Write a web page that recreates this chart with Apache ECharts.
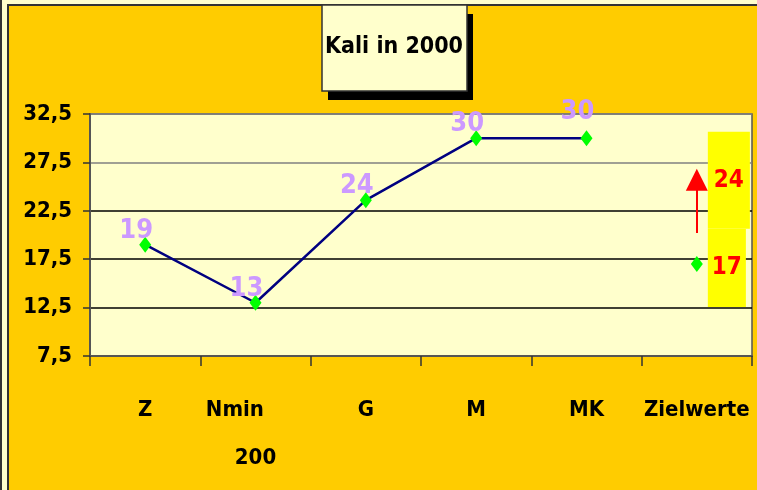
<!DOCTYPE html>
<html>
<head>
<meta charset="utf-8">
<script src="https://cdn.jsdelivr.net/npm/echarts@6/dist/echarts.min.js"></script>
<style>
  html, body { margin: 0; padding: 0; background: #FFFFCC; }
  #kali { width: 757px; height: 490px; }
</style>
</head>
<body>
<div id="kali"></div>
<script>
var categories = ['Z', 'Nmin 200', 'G', 'M', 'MK', 'Zielwerte'];
var ist = [19, 13, 23.6, 30, 30, null];
var zielIst = [null, null, null, null, null, 17];
var zielSoll = [null, null, null, null, null, 24];
var arrowFrom = 20.2;
var arrowTo = 25.7;
var yTicks = [7.5, 12.5, 17.5, 22.5, 27.5, 32.5];

var narrow = "'Liberation Sans Narrow', 'DejaVu Sans Condensed', 'Liberation Sans', sans-serif";

var chartDom = document.getElementById('kali');
var myChart = echarts.init(chartDom);
var option;

// MK label sits a bit higher than the others
var istData = ist.map(function (v, i) {
    if (i === 4) {
        return { value: v, label: { offset: [-9, 0] } };
    }
    return v;
});

option = {
    animation: false,
    backgroundColor: '#FFFFCC',
    graphic: [
        {
            type: 'rect',
            z: -10,
            shape: { x: 8, y: 5, width: 770, height: 500 },
            style: { fill: '#FFCC00', stroke: '#333', lineWidth: 2 }
        },
        {
            type: 'line',
            z: -10,
            shape: { x1: 1, y1: 0, x2: 1, y2: 490 },
            style: { stroke: '#333', lineWidth: 2 }
        },
        // title box with hard shadow
        {
            type: 'rect',
            z: 5,
            shape: { x: 328, y: 14, width: 145, height: 86 },
            style: { fill: '#000' }
        },
        {
            type: 'rect',
            z: 6,
            shape: { x: 322, y: 5, width: 145, height: 86 },
            style: { fill: '#FFFFCC', stroke: '#333', lineWidth: 1.5 }
        }
    ],
    title: {
        text: 'Kali in 2000',
        left: 394,
        top: 32,
        textAlign: 'center',
        padding: 0,
        z: 10,
        textStyle: {
            fontFamily: narrow,
            fontWeight: 'bold',
            fontSize: 23,
            lineHeight: 30,
            color: '#000'
        }
    },
    grid: {
        left: 90,
        right: 5,
        top: 114,
        bottom: 134,
        outerBoundsMode: 'none',
        containLabel: false,
        show: true,
        backgroundColor: '#FFFFCC',
        borderColor: '#555',
        borderWidth: 1.5
    },
    xAxis: {
        type: 'category',
        data: categories,
        boundaryGap: true,
        axisLine: { lineStyle: { color: '#555', width: 2 } },
        axisTick: { show: true, length: 10, lineStyle: { color: '#333', width: 1.5 } },
        axisLabel: {
            interval: 0,
            margin: 30,
            fontFamily: narrow,
            fontWeight: 'bold',
            fontSize: 22,
            lineHeight: 48,
            color: '#000',
            formatter: function (v) {
                return v.replace(' ', '      \n');
            }
        }
    },
    yAxis: {
        type: 'value',
        min: yTicks[0],
        max: yTicks[yTicks.length - 1],
        interval: 5,
        axisLine: { show: true, lineStyle: { color: '#555', width: 2 } },
        axisTick: { show: true, length: 7, lineStyle: { color: '#333', width: 1.5 } },
        splitLine: {
            show: true,
            lineStyle: { color: ['#000', '#000', '#000', '#000', '#808080', '#808080'], width: 1.5 }
        },
        axisLabel: {
            margin: 18,
            fontFamily: narrow,
            fontWeight: 'bold',
            fontSize: 22,
            color: '#000',
            formatter: function (v) {
                return v.toFixed(1).replace('.', ',');
            }
        }
    },
    series: [
        {
            name: 'Kali',
            type: 'line',
            data: istData,
            symbol: 'diamond',
            symbolSize: [12, 16],
            lineStyle: { color: '#000080', width: 2.5 },
            itemStyle: { color: '#00FF00' },
            label: {
                show: true,
                position: 'top',
                distance: 5,
                offset: [-9, 12],
                fontFamily: narrow,
                fontWeight: 'bold',
                fontSize: 27,
                lineHeight: 26,
                color: '#CC99FF',
                formatter: function (p) {
                    return Math.round(p.value);
                }
            },
            z: 3
        },
        {
            name: 'Ziel ist',
            type: 'line',
            data: zielIst,
            symbol: 'diamond',
            symbolSize: [12, 16],
            itemStyle: { color: '#00FF00' },
            lineStyle: { width: 0 },
            label: {
                show: true,
                position: 'right',
                distance: 5,
                offset: [0, 4],
                backgroundColor: '#FFFF00',
                padding: [24, 4],
                fontFamily: narrow,
                fontWeight: 'bold',
                fontSize: 24,
                lineHeight: 30,
                color: '#FF0000'
            },
            z: 4
        },
        {
            name: 'Ziel soll',
            type: 'line',
            data: zielSoll,
            symbol: 'diamond',
            symbolSize: [12, 16],
            itemStyle: { color: 'rgba(0,0,0,0)' },
            lineStyle: { width: 0 },
            label: {
                show: true,
                position: 'right',
                distance: 5,
                offset: [0, -16],
                backgroundColor: '#FFFF00',
                padding: [34, 6, 33, 6],
                fontFamily: narrow,
                fontWeight: 'bold',
                fontSize: 24,
                lineHeight: 30,
                color: '#FF0000'
            },
            markLine: {
                silent: true,
                symbol: ['none', 'triangle'],
                symbolSize: 22,
                label: { show: false },
                lineStyle: { color: '#FF0000', width: 2, type: 'solid' },
                data: [
                    [
                        { coord: [categories.length - 1, arrowFrom] },
                        { coord: [categories.length - 1, arrowTo] }
                    ]
                ]
            },
            z: 3
        }
    ]
};

option && myChart.setOption(option);
</script>
</body>
</html>
